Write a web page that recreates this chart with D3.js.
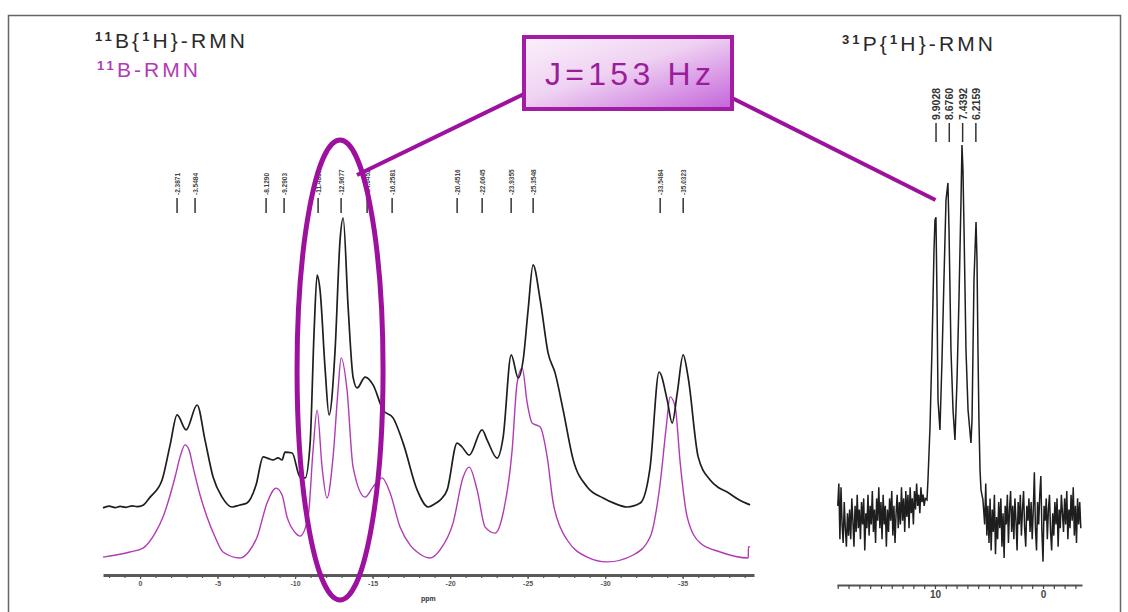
<!DOCTYPE html>
<html>
<head>
<meta charset="utf-8">
<script src="https://cdn.jsdelivr.net/npm/d3@7"></script>
<style>
  html, body { margin: 0; padding: 0; background: #fff; }
  svg { display: block; font-family: "Liberation Sans", Arial, sans-serif; }
</style>
</head>
<body>
<svg id="chart" width="1128" height="612"></svg>
<script>
// ---------- DATA ----------
// 11B{1H} NMR (black), chemical shift in ppm and intensity
const b11H_ppm = [2.39,2.0,1.6,1.29,0.9,0.5,0.2,-0.19,-0.65,-1.42,-1.94,-2.39,-2.97,-3.68,-4.19,-4.71,-5.29,-5.94,-6.4,-6.90,-7.48,-7.94,-8.25,-8.58,-8.9,-9.16,-9.35,-9.81,-10.32,-10.65,-10.97,-11.23,-11.42,-11.61,-11.94,-12.19,-12.58,-12.90,-13.10,-13.42,-13.74,-14.00,-14.52,-15.03,-15.68,-16.32,-16.97,-17.87,-18.58,-19.0,-19.35,-19.81,-20.45,-20.77,-21.23,-22.06,-22.39,-23.03,-23.42,-23.94,-24.39,-24.71,-25.03,-25.35,-25.81,-26.32,-26.77,-27.29,-27.94,-28.84,-29.87,-30.6,-31.42,-32.26,-32.90,-33.48,-34.00,-34.32,-34.65,-35.03,-35.35,-36.00,-36.77,-37.3,-37.87,-38.6,-39.35];
const b11H_int = [-0.3,0.3,-0.2,0.2,-0.1,0.4,0.1,0.6,3.3,9,20.7,30.7,25.7,34,22.3,10,3.3,0,0.6,1.3,7.3,16.7,16.2,15.7,16.4,15.7,18.3,18,10,9.7,21.3,59,77.3,72.3,45.7,30.7,52.3,89,96.3,66.7,43.3,39.7,43.3,40.7,32.3,29.7,21.3,5.7,0,1.0,2.3,5.7,21.3,20,17.3,25.7,22.3,16.3,23.3,50.7,43,49,65.7,80.7,69,51.3,44.7,32.3,15.7,6.7,3,1.2,0,1.3,13.3,45,35.7,28,38,50.7,43.3,16.7,9,6.5,5,2.5,0.7];

// 11B NMR (magenta, proton coupled)
const b11_ppm = [2.39,0.65,-0.19,-0.97,-1.48,-2.26,-2.58,-2.90,-3.16,-3.42,-3.87,-4.32,-4.84,-5.35,-6.45,-7.0,-7.55,-8.19,-8.77,-9.16,-9.48,-10.0,-10.32,-10.84,-11.16,-11.42,-11.74,-12.06,-12.45,-12.77,-12.97,-13.35,-13.74,-14.52,-15.03,-15.61,-16.13,-16.77,-17.42,-17.87,-18.71,-19.35,-20.19,-20.84,-21.23,-21.74,-22.26,-22.90,-23.42,-24.00,-24.32,-24.65,-24.97,-25.29,-25.81,-26.26,-26.65,-27.10,-27.55,-28.84,-30.13,-31.81,-32.90,-33.55,-33.94,-34.19,-34.52,-34.84,-35.29,-36.13,-37.42,-39.23,-39.24,-39.35];
const b11_int = [0.3,2,3.3,8.3,13.7,27,33.7,37.7,36,30.3,21,13.7,7,2,0,2,7,18.3,23.3,21,13.7,8.5,7.3,13.7,36,49.3,30.3,20,33.7,56,66.7,56,30.3,20.3,23.7,26.7,21.7,10.3,4.3,2,0,2.7,11.7,27,30.3,22.7,10.3,8.3,15,36,58.3,63.3,51.7,45,43.7,33.7,18.3,10.3,6,0.3,-1.3,1,7,25,43.7,53.7,50.3,31.7,13.7,5,2,0,3.7,3.7];

// 31P{1H} NMR (black, right panel)
const p31_ppm = [19.0,18.9,18.8,18.7,18.6,18.5,18.4,18.3,18.2,18.1,18.0,17.9,17.8,17.7,17.6,17.5,17.4,17.3,17.2,17.1,17.0,16.9,16.8,16.7,16.6,16.5,16.4,16.3,16.2,16.1,16.0,15.9,15.8,15.7,15.6,15.5,15.4,15.3,15.2,15.1,15.0,14.9,14.8,14.7,14.6,14.5,14.4,14.3,14.2,14.1,14.0,13.9,13.8,13.7,13.6,13.5,13.4,13.3,13.2,13.1,13.0,12.9,12.8,12.7,12.6,12.5,12.4,12.3,12.2,12.1,12.0,11.9,11.8,11.7,11.6,11.5,11.4,11.3,11.2,11.1,11.0,10.9,
  10.74,10.65,10.46,10.28,10.09,10.00,9.91,9.81,9.72,9.54,9.35,9.17,8.98,8.80,8.70,8.52,8.33,8.15,7.96,7.78,7.59,7.50,7.41,7.31,7.13,6.94,6.67,6.57,6.48,6.39,6.20,6.11,6.02,5.93,5.83,5.74,5.56,
  5.4,5.3,5.2,5.1,5.0,4.9,4.8,4.7,4.6,4.5,4.4,4.3,4.2,4.1,4.0,3.9,3.8,3.7,3.6,3.5,3.4,3.3,3.2,3.1,3.0,2.9,2.8,2.7,2.6,2.5,2.4,2.3,2.2,2.1,2.0,1.9,1.8,1.7,1.6,1.5,1.4,1.3,1.2,1.1,1.0,0.9,0.8,0.7,0.6,0.5,0.4,0.3,0.2,0.1,0.0,-0.1,-0.2,-0.3,-0.4,-0.5,-0.6,-0.7,-0.8,-0.9,-1.0,-1.1,-1.2,-1.3,-1.4,-1.5,-1.6,-1.7,-1.8,-1.9,-2.0,-2.1,-2.2,-2.3,-2.4,-2.5,-2.6,-2.7,-2.8,-2.9,-3.0,-3.1,-3.2,-3.3,-3.4,-3.5];
const p31_int = [3,9,-6,8,-2,-7,4,-3,-8,1,-5,2,-6,5,-1,-8,3,-4,6,-3,2,-6,4,-2,5,-9,1,-3,6,-5,3,-2,7,-4,2,-7,5,-1,8,-3,4,-6,6,-2,3,-8,2,-4,5,-1,7,-5,3,-7,1,6,-3,4,-2,8,-1,5,-4,7,0,6,-3,8,1,5,-2,7,2,9,3,6,1,8,4,6,3,5,
  4.6,9.9,24.2,44.9,71.8,79.8,80.6,58.3,31.5,23.4,42.2,63.7,85.2,89.8,77.2,44.9,28.8,20.7,36.8,58.3,85.2,100,93.3,77.2,44.9,28.8,19.9,26.1,44.9,63.7,79.3,69.1,44.9,26.1,12.6,7.3,4.6,
  -2,9,-5,3,-7,5,-9,2,-4,6,-10,0,-6,4,-3,5,-8,1,-11,3,-2,6,-7,2,7,-4,3,-6,5,-1,-9,4,-2,6,-5,2,7,-3,-8,3,-1,5,-4,4,-6,2,12,-3,-9,4,-2,6,11,-4,-12,3,-1,5,-6,2,6,-4,-9,1,-5,4,-2,5,-8,2,-3,6,1,-4,5,-2,7,-6,2,-3,6,-1,8,-5,3,-7,5,-2,4,-3];

// axis tick labels and peak-pick labels
const bTicks = [0,-5,-10,-15,-20,-25,-30,-35];
const pTicks = [10,0];
const bPeakLabels = ["-2.3871","-3.5484","-8.1290","-9.2903","-11.4839","-12.9677","-14.6452","-16.2581","-20.4516","-22.0645","-23.9355","-25.3548","-33.5484","-35.0323"];
const pPeakLabels = ["9.9028","8.6760","7.4392","6.2159"];
const titleB1H = ["11","B{","1","H}-RMN"];
const titleB = ["11","B-RMN"];
const titleP = ["31","P{","1","H}-RMN"];
const jLabel = "J=153 Hz";

// ---------- DRAWING ----------
const svg = d3.select("#chart");
const black = "#1e1e1e", magenta = "#b13bb6", purple = "#9e119e";

// outer frame
svg.append("rect").attr("x", 8.5).attr("y", 15.5).attr("width", 1112).attr("height", 620)
  .attr("fill", "none").attr("stroke", "#666").attr("stroke-width", 1.5);

// scales
const xB = d3.scaleLinear().domain([2.39, -39.6]).range([103, 754]);
const yB = d3.scaleLinear().domain([0, 100]).range([558, 258]);
const blackOffset = 17;
const xP = d3.scaleLinear().domain([19.07, -3.61]).range([837, 1082]);
const yP = d3.scaleLinear().domain([0, 100]).range([517, 145]);

// left axis
const gB = svg.append("g").attr("transform", "translate(0,575)");
gB.append("g").call(d3.axisBottom(xB).tickValues(xB.ticks(42)).tickSize(3).tickSizeOuter(0).tickFormat(""))
  .call(g => g.select(".domain").attr("stroke", "#5a5a5a").attr("stroke-width", 3))
  .call(g => g.selectAll(".tick line").attr("stroke", "#555").attr("stroke-width", 1.2));
gB.append("g").call(d3.axisBottom(xB).tickValues(bTicks).tickSize(4).tickSizeOuter(0).tickFormat(d => d))
  .call(g => g.select(".domain").remove())
  .call(g => g.selectAll(".tick line").attr("stroke", "#555").attr("stroke-width", 1.2))
  .call(g => g.selectAll(".tick text").attr("font-size", 7).attr("font-weight", "bold").attr("fill", "#555").attr("dy", "0.5em"));
svg.append("text").attr("x", xB(-18.6)).attr("y", 601).attr("text-anchor", "middle")
  .attr("font-size", 7).attr("font-weight", "bold").attr("fill", "#333").text("ppm");

// right axis
const gP = svg.append("g").attr("transform", "translate(0,585)");
gP.append("g").call(d3.axisBottom(xP).tickValues(xP.ticks(25)).tickSize(4).tickSizeOuter(0).tickFormat(""))
  .call(g => g.select(".domain").attr("stroke", "#555").attr("stroke-width", 2))
  .call(g => g.selectAll(".tick line").attr("stroke", "#444").attr("stroke-width", 1.2));
gP.append("g").call(d3.axisBottom(xP).tickValues(pTicks).tickSize(4).tickSizeOuter(0).tickFormat(d => d))
  .call(g => g.select(".domain").remove())
  .call(g => g.selectAll(".tick line").attr("stroke", "#444"))
  .call(g => g.selectAll(".tick text").attr("font-size", 10).attr("font-weight", "bold").attr("fill", "#444").attr("dy", "0.6em"));

// spectra
const lineB1H = d3.line().x(d => xB(d[0])).y(d => yB(d[1] + blackOffset)).curve(d3.curveMonotoneX);
const lineB = d3.line().x(d => xB(d[0])).y(d => yB(d[1])).curve(d3.curveMonotoneX);
const lineP = d3.line().x(d => xP(d[0])).y(d => yP(d[1]));

svg.append("path").datum(d3.zip(b11_ppm, b11_int)).attr("d", lineB)
  .attr("fill", "none").attr("stroke", magenta).attr("stroke-width", 1.4);
svg.append("path").datum(d3.zip(b11H_ppm, b11H_int)).attr("d", lineB1H)
  .attr("fill", "none").attr("stroke", black).attr("stroke-width", 1.7).attr("stroke-linejoin", "round");
svg.append("path").datum(d3.zip(p31_ppm, p31_int)).attr("d", lineP)
  .attr("fill", "none").attr("stroke", black).attr("stroke-width", 1.5);

// peak-pick markers (left)
const pkB = svg.append("g").selectAll("g").data(bPeakLabels).join("g")
  .attr("transform", d => `translate(${xB(+d)},0)`);
pkB.append("line").attr("y1", 198).attr("y2", 213).attr("stroke", "#333").attr("stroke-width", 1.5);
pkB.append("text").attr("transform", "translate(2.5,195) rotate(-90)")
  .attr("font-size", 6.5).attr("font-weight", "bold").attr("fill", "#444").text(d => d);

// peak-pick markers (right)
const pkP = svg.append("g").selectAll("g").data(pPeakLabels).join("g")
  .attr("transform", d => `translate(${xP(+d)},0)`);
pkP.append("line").attr("y1", 123).attr("y2", 142).attr("stroke", "#333").attr("stroke-width", 1.5);
pkP.append("text").attr("transform", "translate(4,120) rotate(-90)")
  .attr("font-size", 10.5).attr("font-weight", "bold").attr("fill", "#333").text(d => d);

// titles
function title(parts, x, y, len, color) {
  const t = svg.append("text").attr("x", x).attr("y", y).attr("fill", color)
    .attr("font-size", 21).attr("textLength", len).attr("lengthAdjust", "spacing");
  parts.forEach((p, i) => {
    const sup = /^\d+$/.test(p);
    const ts = t.append("tspan").text(p);
    if (sup) ts.attr("font-size", 13).attr("font-weight", "bold").attr("dy", -7);
    else if (i > 0) ts.attr("dy", 7);
  });
  return t;
}
title(titleB1H, 95, 48, 150, "#2a2a2a");
title(titleB, 97, 77, 101, magenta);
title(titleP, 842, 51, 151, "#2a2a2a");

// ellipse highlighting the doublet
svg.append("ellipse").attr("cx", xB(-12.9)).attr("cy", 370).attr("rx", 43).attr("ry", 230)
  .attr("fill", "none").attr("stroke", purple).attr("stroke-width", 5);

// connector lines
svg.append("line").attr("x1", 526).attr("y1", 93).attr("x2", 357).attr("y2", 175)
  .attr("stroke", purple).attr("stroke-width", 4);
svg.append("line").attr("x1", 732).attr("y1", 98).attr("x2", xP(9.95)).attr("y2", 200)
  .attr("stroke", purple).attr("stroke-width", 4);

// J label box
const defs = svg.append("defs");
const grad = defs.append("linearGradient").attr("id", "jgrad")
  .attr("x1", "0%").attr("y1", "0%").attr("x2", "100%").attr("y2", "100%");
grad.append("stop").attr("offset", "0%").attr("stop-color", "#fbf0fb");
grad.append("stop").attr("offset", "45%").attr("stop-color", "#efd2f2");
grad.append("stop").attr("offset", "100%").attr("stop-color", "#c463da");
svg.append("rect").attr("x", 524).attr("y", 37).attr("width", 208).attr("height", 72)
  .attr("fill", "url(#jgrad)").attr("stroke", "#a31ca3").attr("stroke-width", 4);
svg.append("text").attr("x", 628).attr("y", 85).attr("text-anchor", "middle")
  .attr("font-size", 32).attr("fill", "#9a1e9a").attr("textLength", 166).attr("lengthAdjust", "spacing")
  .text(jLabel);
</script>
</body>
</html>
